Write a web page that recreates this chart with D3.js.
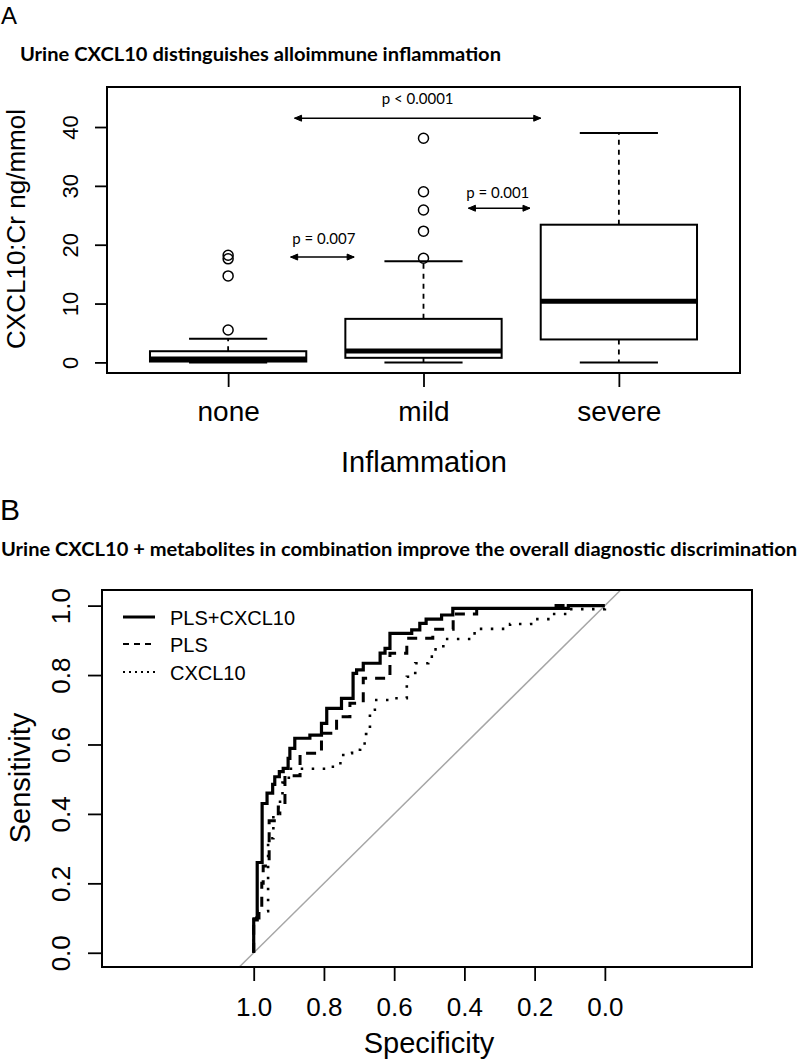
<!DOCTYPE html>
<html>
<head>
<meta charset="utf-8">
<script src="https://cdn.jsdelivr.net/npm/d3@7"></script>
<style>
  html, body { margin: 0; padding: 0; background: #fff; }
  svg { display: block; }
</style>
</head>
<body>
<svg id="chart" width="800" height="1064"></svg>
<script>
// ---------- Panel A data (boxplot) ----------
const categories = ["none", "mild", "severe"];
const whiskerLow = [0, 0, 0];
const q1Values = [0.15, 0.78, 3.9];
const medianValues = [0.6, 1.95, 10.4];
const q3Values = [1.9, 7.4, 23.4];
const whiskerHigh = [4.0, 17.2, 39.0];
const outliersNone = [5.5, 14.7, 17.6, 18.2];
const outliersMild = [17.7, 22.3, 25.9, 29.0, 38.1];
const outliersSevere = [];
const yTicksA = [0, 10, 20, 30, 40];

// comparisons
const cmpFrom = [1.34, 1.32, 2.23];
const cmpTo = [2.6, 1.645, 2.545];
const cmpY = [41.5, 17.9, 26.2];
const cmpLabelX = [1.97, 1.49, 2.38];
const cmpLabelY = [43.9, 20.2, 27.9];
const cmpLabels = ["p < 0.0001", "p = 0.007", "p = 0.001"];

// ---------- Panel B data (ROC curves: specificity, sensitivity) ----------
const rocNames = ["PLS+CXCL10", "PLS", "CXCL10"];
const plsCxclSpec = [1.0, 1.0, 0.99, 0.976, 0.962, 0.946, 0.94, 0.927, 0.916, 0.902, 0.897, 0.883, 0.840, 0.807, 0.792, 0.750, 0.717, 0.707, 0.688, 0.640, 0.626, 0.612, 0.550, 0.527, 0.509, 0.465, 0.433, 0.104, 0.0];
const plsCxclSens = [0.0, 0.095, 0.26, 0.43, 0.46, 0.485, 0.507, 0.522, 0.531, 0.560, 0.589, 0.618, 0.627, 0.661, 0.704, 0.733, 0.805, 0.815, 0.834, 0.863, 0.877, 0.920, 0.930, 0.949, 0.961, 0.973, 0.992, 1.0, 1.0];
const plsSpec = [1.0, 1.0, 0.985, 0.977, 0.973, 0.956, 0.93, 0.911, 0.868, 0.807, 0.764, 0.726, 0.688, 0.612, 0.564, 0.49, 0.432, 0.365, 0.147, 0.0];
const plsSens = [0.0, 0.1, 0.13, 0.2, 0.25, 0.38, 0.42, 0.51, 0.575, 0.632, 0.68, 0.719, 0.791, 0.863, 0.906, 0.932, 0.976, 0.992, 1.0, 1.0];
const cxclSpec = [1.0, 1.0, 0.959, 0.944, 0.925, 0.918, 0.9, 0.792, 0.769, 0.745, 0.72, 0.697, 0.68, 0.669, 0.655, 0.598, 0.564, 0.54, 0.503, 0.488, 0.46, 0.379, 0.36, 0.27, 0.21, 0.15, 0.1, 0.0];
const cxclSens = [0.0, 0.12, 0.33, 0.40, 0.45, 0.49, 0.53, 0.536, 0.546, 0.575, 0.585, 0.603, 0.63, 0.70, 0.728, 0.733, 0.795, 0.834, 0.853, 0.874, 0.904, 0.92, 0.933, 0.947, 0.961, 0.976, 0.99, 1.0];
const rocTicks = [1.0, 0.8, 0.6, 0.4, 0.2, 0.0];

// ---------- Drawing ----------
const svg = d3.select("#chart");
const helv = "'Liberation Sans', Arial, Helvetica, sans-serif";
const hum = "Lato, 'Open Sans', sans-serif";

// Panel letters
svg.append("text").attr("x", 1).attr("y", 24)
  .attr("font-family", helv).attr("font-size", 24).text("A");
svg.append("text").attr("x", 0).attr("y", 520)
  .attr("font-family", helv).attr("font-size", 30).text("B");

// Titles
svg.append("text").attr("x", 20).attr("y", 61)
  .attr("font-family", hum).attr("font-weight", "bold").attr("font-size", 18)
  .attr("textLength", 481).attr("lengthAdjust", "spacingAndGlyphs")
  .text("Urine CXCL10 distinguishes alloimmune inflammation");
svg.append("text").attr("x", 1).attr("y", 556)
  .attr("font-family", hum).attr("font-weight", "bold").attr("font-size", 18)
  .attr("textLength", 796).attr("lengthAdjust", "spacingAndGlyphs")
  .text("Urine CXCL10 + metabolites in combination improve the overall diagnostic discrimination");

// ===== Panel A =====
const xA = d3.scaleLinear().domain([0.38, 3.62]).range([107, 740]);
const yA = d3.scaleLinear().domain([-1.8, 46.8]).range([373, 87]);
const gA = svg.append("g");

const yAxisA = d3.axisLeft(yA).tickValues(yTicksA).tickSize(12).tickPadding(0).tickFormat(d3.format("d"));
const yAxG = gA.append("g").attr("transform", "translate(107,0)").call(yAxisA);
yAxG.select(".domain").remove();
yAxG.selectAll(".tick line").attr("stroke", "#000").attr("stroke-width", 1.8);
yAxG.selectAll(".tick text")
  .attr("font-family", helv).attr("font-size", 22).attr("fill", "#000")
  .attr("text-anchor", "middle").attr("dy", null).attr("x", null)
  .attr("transform", "translate(-29,0) rotate(-90)");

const xAxisA = d3.axisBottom(xA).tickValues([1, 2, 3]).tickSize(14).tickFormat(d => categories[d - 1]);
const xAxG = gA.append("g").attr("transform", "translate(0,373)").call(xAxisA);
xAxG.select(".domain").remove();
xAxG.selectAll(".tick line").attr("stroke", "#000").attr("stroke-width", 1.8);
xAxG.selectAll(".tick text")
  .attr("font-family", helv).attr("font-size", 28).attr("fill", "#000")
  .attr("dy", null).attr("y", 48);

const boxHalf = (xA(1.4) - xA(1));
const stapleHalf = boxHalf / 2;
categories.forEach((c, i) => {
  const cx = xA(i + 1);
  gA.append("line").attr("x1", cx).attr("x2", cx).attr("y1", yA(q3Values[i])).attr("y2", yA(whiskerHigh[i]))
    .attr("stroke", "#000").attr("stroke-width", 1.8).attr("stroke-dasharray", "5,5");
  gA.append("line").attr("x1", cx).attr("x2", cx).attr("y1", yA(q1Values[i])).attr("y2", yA(whiskerLow[i]))
    .attr("stroke", "#000").attr("stroke-width", 1.8).attr("stroke-dasharray", "5,5");
  [whiskerLow[i], whiskerHigh[i]].forEach(v => {
    gA.append("line").attr("x1", cx - stapleHalf).attr("x2", cx + stapleHalf).attr("y1", yA(v)).attr("y2", yA(v))
      .attr("stroke", "#000").attr("stroke-width", 2);
  });
  gA.append("rect").attr("x", cx - boxHalf).attr("width", 2 * boxHalf)
    .attr("y", yA(q3Values[i])).attr("height", yA(q1Values[i]) - yA(q3Values[i]))
    .attr("fill", "#fff").attr("stroke", "#000").attr("stroke-width", 2);
  gA.append("line").attr("x1", cx - boxHalf).attr("x2", cx + boxHalf).attr("y1", yA(medianValues[i])).attr("y2", yA(medianValues[i]))
    .attr("stroke", "#000").attr("stroke-width", 5);
});
[outliersNone, outliersMild, outliersSevere].forEach((arr, i) => {
  gA.selectAll(null).data(arr).enter().append("circle")
    .attr("cx", xA(i + 1)).attr("cy", d => yA(d)).attr("r", 5)
    .attr("fill", "none").attr("stroke", "#000").attr("stroke-width", 1.5);
});

function arrowHead(g, x, y, dir) {
  g.append("path")
    .attr("d", `M${x + dir * 7},${y - 3} L${x},${y} L${x + dir * 7},${y + 3} Z`)
    .attr("fill", "#000").attr("stroke", "#000").attr("stroke-width", 1);
}
cmpLabels.forEach((lab, i) => {
  const x1 = xA(cmpFrom[i]), x2 = xA(cmpTo[i]), y = yA(cmpY[i]);
  gA.append("line").attr("x1", x1).attr("x2", x2).attr("y1", y).attr("y2", y)
    .attr("stroke", "#000").attr("stroke-width", 1.5);
  arrowHead(gA, x1, y, 1);
  arrowHead(gA, x2, y, -1);
  gA.append("text").attr("x", xA(cmpLabelX[i])).attr("y", yA(cmpLabelY[i]))
    .attr("text-anchor", "middle").attr("font-family", hum).attr("font-size", 15).text(lab);
});

gA.append("rect").attr("x", 107).attr("y", 87).attr("width", 633).attr("height", 286)
  .attr("fill", "none").attr("stroke", "#000").attr("stroke-width", 2);

gA.append("text").attr("x", 424).attr("y", 472).attr("text-anchor", "middle")
  .attr("font-family", helv).attr("font-size", 29).text("Inflammation");
gA.append("text").attr("transform", "translate(25,229) rotate(-90)").attr("text-anchor", "middle")
  .attr("font-family", helv).attr("font-size", 26).text("CXCL10:Cr ng/mmol");

// ===== Panel B =====
const xB = d3.scaleLinear().domain([1.432, -0.419]).range([102, 752]);
const yB = d3.scaleLinear().domain([-0.041, 1.045]).range([967, 590]);
const gB = svg.append("g");

gB.append("line")
  .attr("x1", xB(1 - yB.domain()[0])).attr("y1", yB(yB.domain()[0]))
  .attr("x2", xB(1 - yB.domain()[1])).attr("y2", yB(yB.domain()[1]))
  .attr("stroke", "#a6a6a6").attr("stroke-width", 1.5);

const rocLine = d3.line().x(d => xB(d[0])).y(d => yB(d[1])).curve(d3.curveStepAfter);
const curves = [
  { spec: plsCxclSpec, sens: plsCxclSens, dash: null, w: 3.2 },
  { spec: plsSpec, sens: plsSens, dash: "10,8", w: 3 },
  { spec: cxclSpec, sens: cxclSens, dash: "2.5,8.5", w: 2.6 }
];
curves.slice().reverse().forEach(c => {
  const pts = c.spec.map((s, j) => [s, c.sens[j]]);
  gB.append("path").attr("d", rocLine(pts)).attr("fill", "none")
    .attr("stroke", "#000").attr("stroke-width", c.w)
    .attr("stroke-dasharray", c.dash);
});

const yAxisB = d3.axisLeft(yB).tickValues([0, 0.2, 0.4, 0.6, 0.8, 1.0]).tickSize(14).tickFormat(d3.format(".1f"));
const yBx = gB.append("g").attr("transform", "translate(102,0)").call(yAxisB);
yBx.select(".domain").remove();
yBx.selectAll(".tick line").attr("stroke", "#000").attr("stroke-width", 1.8);
yBx.selectAll(".tick text")
  .attr("font-family", helv).attr("font-size", 26).attr("fill", "#000")
  .attr("text-anchor", "middle").attr("dy", null).attr("x", null)
  .attr("transform", "translate(-32,0) rotate(-90)");

const xAxisB = d3.axisBottom(xB).tickValues(rocTicks).tickSize(14).tickFormat(d3.format(".1f"));
const xBx = gB.append("g").attr("transform", "translate(0,967)").call(xAxisB);
xBx.select(".domain").remove();
xBx.selectAll(".tick line").attr("stroke", "#000").attr("stroke-width", 1.8);
xBx.selectAll(".tick text")
  .attr("font-family", helv).attr("font-size", 26).attr("fill", "#000")
  .attr("dy", null).attr("y", 49);

gB.append("rect").attr("x", 102).attr("y", 590).attr("width", 650).attr("height", 377)
  .attr("fill", "none").attr("stroke", "#000").attr("stroke-width", 2);

const legY = [617, 644, 672];
curves.forEach((c, i) => {
  gB.append("line").attr("x1", 123).attr("x2", 155).attr("y1", legY[i]).attr("y2", legY[i])
    .attr("stroke", "#000").attr("stroke-width", i === 0 ? 3 : 2)
    .attr("stroke-dasharray", i === 0 ? null : (i === 1 ? "6,5" : "2,4"));
  gB.append("text").attr("x", 170).attr("y", legY[i] + 7.5)
    .attr("font-family", helv).attr("font-size", 20).text(rocNames[i]);
});

gB.append("text").attr("x", 429).attr("y", 1053).attr("text-anchor", "middle")
  .attr("font-family", helv).attr("font-size", 29).text("Specificity");
gB.append("text").attr("transform", "translate(30,778) rotate(-90)").attr("text-anchor", "middle")
  .attr("font-family", helv).attr("font-size", 29).text("Sensitivity");
</script>
</body>
</html>
